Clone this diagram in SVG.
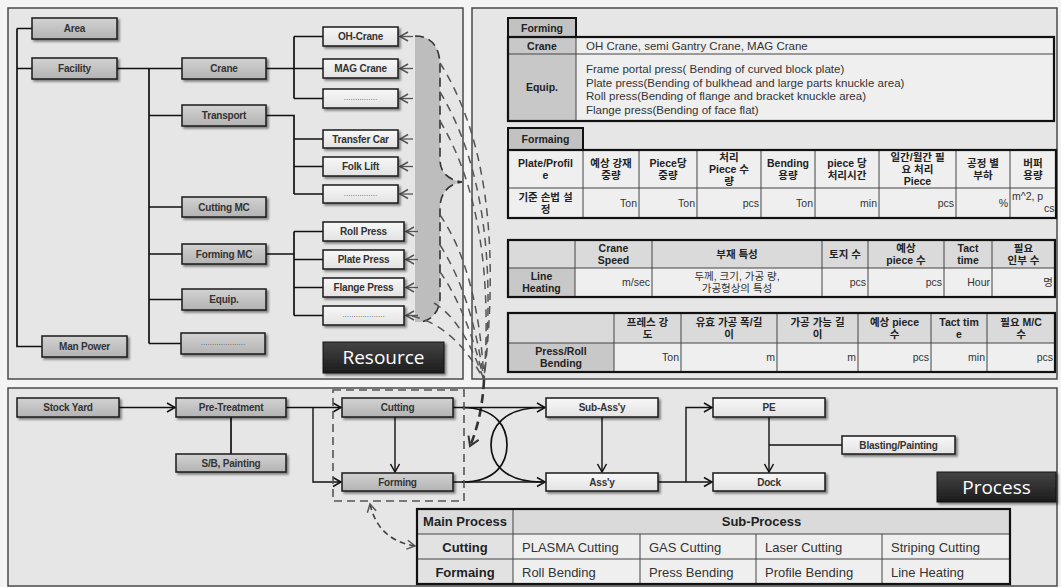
<svg xmlns="http://www.w3.org/2000/svg" width="1061" height="587" viewBox="0 0 1061 587">
<defs>
<filter id="sh" x="-10%" y="-30%" width="130%" height="180%"><feDropShadow dx="2" dy="2" stdDeviation="1.2" flood-color="#000" flood-opacity="0.45"/></filter>
<linearGradient id="gg" x1="0" y1="0" x2="0" y2="1"><stop offset="0" stop-color="#d2d2d2"/><stop offset="1" stop-color="#b3b3b3"/></linearGradient>
<linearGradient id="gl" x1="0" y1="0" x2="0" y2="1"><stop offset="0" stop-color="#f8f8f8"/><stop offset="1" stop-color="#e2e2e2"/></linearGradient>
<linearGradient id="gd" x1="0" y1="0" x2="0" y2="1"><stop offset="0" stop-color="#444"/><stop offset="1" stop-color="#1c1c1c"/></linearGradient>
<marker id="ar" markerUnits="userSpaceOnUse" markerWidth="12" markerHeight="12" refX="9" refY="5" orient="auto-start-reverse" viewBox="0 0 12 10"><path d="M1,0.5 L9,5 L1,9.5" fill="none" stroke="#111" stroke-width="1.5"/></marker>
<marker id="ag" markerUnits="userSpaceOnUse" markerWidth="12" markerHeight="12" refX="9" refY="5" orient="auto-start-reverse" viewBox="0 0 12 10"><path d="M1,0.5 L9,5 L1,9.5" fill="none" stroke="#555" stroke-width="1.5"/></marker>
<marker id="ad" markerUnits="userSpaceOnUse" markerWidth="14" markerHeight="14" refX="10" refY="6" orient="auto" viewBox="0 0 14 12"><path d="M1,0.5 L10,6 L1,11.5" fill="none" stroke="#333" stroke-width="2"/></marker>
<style>
.panel{fill:#e6e6e6;stroke:#4a4a4a;stroke-width:1.5}
.ng{fill:url(#gg);stroke:#1a1a1a;stroke-width:1.5;filter:url(#sh)}
.nw{fill:url(#gl);stroke:#1a1a1a;stroke-width:1.5;filter:url(#sh)}
.nt{font-family:"Liberation Sans",Arial,sans-serif;font-weight:bold;font-size:10px;fill:#333;text-anchor:middle;letter-spacing:-0.2px}
.dots{font-family:"Liberation Sans",Arial,sans-serif;font-size:8px;fill:#555;text-anchor:middle}
.lab{fill:url(#gd);stroke:#111;stroke-width:1;filter:url(#sh)}
.labt{font-family:"Open Sans","Liberation Sans",sans-serif;font-size:19px;fill:#fff;text-anchor:middle}
.ln{fill:none;stroke:#111;stroke-width:1.7}
.ar{fill:none;stroke:#111;stroke-width:1.4;marker-end:url(#ar)}
.fan{fill:none;stroke:#555;stroke-width:1.5;stroke-dasharray:8 6}
.tout{fill:none;stroke:#111;stroke-width:2.2}
.tin{fill:none;stroke:#444;stroke-width:1}
.tb{font-family:"Liberation Sans","Noto Sans CJK KR",sans-serif;font-weight:bold;font-size:10.5px;fill:#222;text-anchor:middle}
.tr{font-family:"Liberation Sans","Noto Sans CJK KR",sans-serif;font-size:10.5px;fill:#333}
.te{text-anchor:end}
.tc{text-anchor:middle}
.cg{fill:#c8c8c8}
.cl{fill:#efefef}
.cm{fill:#dadada}
.mid{font-size:11.5px}
.big{font-size:13px}
</style>
</defs>
<rect x="0" y="0" width="1061" height="587" fill="#f4f4f4"/>
<rect class="panel" x="8" y="8" width="455" height="371"/>
<rect class="panel" x="472" y="8" width="585" height="371"/>
<rect class="panel" x="8" y="388" width="1049" height="198"/>

<path d="M415,36 C432,36 440,48 440,66 L440,160 C440,172 448,180 462,182 C448,184 440,194 440,208 L440,298 C440,312 430,322 418,322 L415,322 Z" fill="#bdbdbd"/>

<g id="connectors">
<path class="ln" d="M17,28.5 H32 M17,68.5 H32 M17,28.5 V346.5 H42"/>
<path class="ln" d="M117,68.5 H182 M149,68.5 V343.5 M149,115.5 H182 M149,207 H182 M149,254 H182 M149,299.5 H182 M149,343.5 H181"/>
<path class="ln" d="M266,68.5 H323 M294,36.5 V98.5 M294,36.5 H323 M294,98.5 H323"/>
<path class="ln" d="M266,115.5 H294 V194 M294,139 H323 M294,166.5 H323 M294,194 H323"/>
<path class="ln" d="M266,254 H294 M294,231.5 V315.5 M294,231.5 H323 M294,259.5 H323 M294,287.5 H323 M294,315.5 H323"/>
<g stroke="#555" stroke-width="1.3" fill="none" marker-end="url(#ag)">
<path d="M413,36.5 H400"/><path d="M413,68.5 H400"/><path d="M413,98.5 H400"/>
<path d="M413,139 H400"/><path d="M413,166.5 H400"/><path d="M413,194 H400"/>
<path d="M418,231.5 H406"/><path d="M418,259.5 H406"/><path d="M418,287.5 H406"/><path d="M418,315.5 H406"/>
</g>
<path d="M415,36 C432,36 440,48 440,66 L440,160 C440,172 448,180 462,182 C448,184 440,194 440,208 L440,298 C440,312 430,322 418,322" fill="none" stroke="#333" stroke-width="1.6" stroke-dasharray="9 5"/>
<path class="fan" d="M440,63 Q508,170 484,380"/>
<path class="fan" d="M440,92 Q502,195 484,380"/>
<path class="fan" d="M440,121 Q496,215 484,380"/>
<path class="fan" d="M440,215 Q478,270 484,380"/>
<path class="fan" d="M440,245 Q472,295 484,380"/>
<path class="fan" d="M440,272 Q467,310 484,380"/>
<path class="fan" d="M434,303 Q463,320 484,380"/>
<path class="fan" d="M412,316 Q455,326 484,380"/>
<path d="M484,380 Q482,418 470,446" fill="none" stroke="#333" stroke-width="2.6" stroke-dasharray="9 5" marker-end="url(#ad)"/>

<path class="ar" d="M119,407.5 H175"/>
<path class="ar" d="M286,407.5 H341"/>
<path class="ar" d="M313,407.5 V482 H341"/>
<path class="ln" d="M231,417 V454"/>
<path class="ar" d="M395,417 V472"/>
<path class="ar" d="M453,407.5 H545"/>
<path class="ar" d="M453,482 H545"/>
<path class="ln" stroke-width="1.4" d="M462,407.5 C497,407.5 507,428 507,445 C507,462 497,482 462,482"/>
<path class="ln" stroke-width="1.4" d="M542,407.5 C503,407.5 491,428 491,445 C491,462 503,482 542,482"/>
<path class="ar" d="M602,417 V472"/>
<path class="ar" d="M658,482 H712"/>
<path class="ar" d="M686,482 V407.5 H712"/>
<path class="ar" d="M769,417 V472"/>
<path class="ln" stroke-width="1.4" d="M769,445 H842"/>
<rect x="333" y="390" width="131" height="111" fill="none" stroke="#555" stroke-width="1.6" stroke-dasharray="8 5"/>
<path d="M370,504 Q378,540 415,546" fill="none" stroke="#444" stroke-width="1.6" stroke-dasharray="6 4" marker-start="url(#ag)" marker-end="url(#ag)"/>
</g>

<g id="n-area"><rect class="ng" x="32" y="18" width="85" height="21"/><text class="nt" x="74.5" y="32">Area</text></g>
<g id="n-facility"><rect class="ng" x="32" y="58" width="85" height="21"/><text class="nt" x="74.5" y="72">Facility</text></g>
<g id="n-crane"><rect class="ng" x="182" y="58" width="84" height="21"/><text class="nt" x="224" y="72">Crane</text></g>
<g id="n-transport"><rect class="ng" x="182" y="105" width="84" height="21"/><text class="nt" x="224" y="119">Transport</text></g>
<g id="n-cuttingmc"><rect class="ng" x="182" y="197" width="84" height="20"/><text class="nt" x="224" y="210.5">Cutting MC</text></g>
<g id="n-formingmc"><rect class="ng" x="182" y="244" width="84" height="20"/><text class="nt" x="224" y="257.5">Forming MC</text></g>
<g id="n-equip"><rect class="ng" x="182" y="289" width="84" height="21"/><text class="nt" x="224" y="303">Equip.</text></g>
<g id="n-etc1"><rect class="ng" x="181" y="333" width="84" height="21"/><text class="dots" x="223" y="345">....................</text></g>
<g id="n-manpower"><rect class="ng" x="42" y="336" width="85" height="21"/><text class="nt" x="84.5" y="350">Man Power</text></g>
<g id="n-ohcrane"><rect class="nw" x="323" y="27" width="75" height="19"/><text class="nt" x="360.5" y="40">OH-Crane</text></g>
<g id="n-magcrane"><rect class="nw" x="323" y="59" width="75" height="19"/><text class="nt" x="360.5" y="72">MAG Crane</text></g>
<g id="n-etc2"><rect class="nw" x="323" y="89" width="75" height="19"/><text class="dots" x="360.5" y="100">...............</text></g>
<g id="n-transfercar"><rect class="nw" x="323" y="130" width="75" height="18"/><text class="nt" x="360.5" y="142.5">Transfer Car</text></g>
<g id="n-folklift"><rect class="nw" x="323" y="157" width="75" height="19"/><text class="nt" x="360.5" y="170">Folk Lift</text></g>
<g id="n-etc3"><rect class="nw" x="323" y="185" width="75" height="18"/><text class="dots" x="360.5" y="196">...............</text></g>
<g id="n-rollpress"><rect class="nw" x="323" y="222" width="81" height="19"/><text class="nt" x="363.5" y="235">Roll Press</text></g>
<g id="n-platepress"><rect class="nw" x="323" y="250" width="81" height="19"/><text class="nt" x="363.5" y="263">Plate Press</text></g>
<g id="n-flangepress"><rect class="nw" x="323" y="278" width="81" height="19"/><text class="nt" x="363.5" y="291">Flange Press</text></g>
<g id="n-etc4"><rect class="nw" x="323" y="306" width="81" height="19"/><text class="dots" x="363.5" y="317">...................</text></g>
<g id="n-resource"><rect class="lab" x="323" y="342" width="121" height="31"/><text class="labt" x="383.5" y="364">Resource</text></g>

<g id="t-forming">
<rect x="508" y="18" width="68" height="19" fill="#c2c2c2" stroke="#111" stroke-width="2"/>
<text class="tb" x="542" y="31.5">Forming</text>
<rect class="cg" x="508" y="37" width="68" height="84"/>
<rect class="cl" x="576" y="37" width="478" height="84"/>
<path class="tin" d="M508,54 H1054 M576,37 V121"/>
<rect class="tout" x="508" y="37" width="546" height="84"/>
<text class="tb" x="542" y="49.5">Crane</text>
<text class="tb" x="542" y="91">Equip.</text>
<text class="tr mid" x="586" y="50">OH Crane, semi Gantry Crane, MAG Crane</text>
<text class="tr mid" x="586" y="73"><tspan x="586">Frame portal press( Bending of curved block plate)</tspan><tspan x="586" dy="13.5">Plate press(Bending of bulkhead and large parts knuckle area)</tspan><tspan x="586" dy="13.5">Roll press(Bending of flange and bracket knuckle area)</tspan><tspan x="586" dy="13.5">Flange press(Bending of face flat)</tspan></text>
</g>

<g id="t-formaing">
<rect x="508" y="128" width="75" height="22" fill="#c2c2c2" stroke="#111" stroke-width="2"/>
<text class="tb" x="545.5" y="143">Formaing</text>
<rect class="cl" x="508" y="150" width="548" height="68"/>
<path class="tin" d="M508,188 H1056 M583,150 V218 M639,150 V218 M697,150 V218 M761,150 V218 M815,150 V218 M879,150 V218 M956,150 V218 M1010,150 V218"/>
<rect class="tout" x="508" y="150" width="548" height="68"/>
<text class="tb" y="167"><tspan x="545.5">Plate/Profil</tspan><tspan x="545.5" dy="12">e</tspan></text>
<text class="tb" y="167"><tspan x="611">예상 강재</tspan><tspan x="611" dy="12">중량</tspan></text>
<text class="tb" y="167"><tspan x="668">Piece당</tspan><tspan x="668" dy="12">중량</tspan></text>
<text class="tb" y="161"><tspan x="729">처리</tspan><tspan x="729" dy="12">Piece 수</tspan><tspan x="729" dy="12">량</tspan></text>
<text class="tb" y="167"><tspan x="788">Bending</tspan><tspan x="788" dy="12">용량</tspan></text>
<text class="tb" y="167"><tspan x="847">piece 당</tspan><tspan x="847" dy="12">처리시간</tspan></text>
<text class="tb" y="161"><tspan x="917.5">일간/월간 필</tspan><tspan x="917.5" dy="12">요 처리</tspan><tspan x="917.5" dy="12">Piece</tspan></text>
<text class="tb" y="167"><tspan x="983">공정 별</tspan><tspan x="983" dy="12">부하</tspan></text>
<text class="tb" y="167"><tspan x="1033">버퍼</tspan><tspan x="1033" dy="12">용량</tspan></text>
<text class="tb" y="201"><tspan x="545.5">기준 손법 설</tspan><tspan x="545.5" dy="12">정</tspan></text>
<text class="tr te" x="637" y="207">Ton</text>
<text class="tr te" x="695" y="207">Ton</text>
<text class="tr te" x="759" y="207">pcs</text>
<text class="tr te" x="813" y="207">Ton</text>
<text class="tr te" x="877" y="207">min</text>
<text class="tr te" x="954" y="207">pcs</text>
<text class="tr te" x="1008" y="207">%</text>
<text class="tr" y="200"><tspan x="1012">m^2, p</tspan><tspan x="1044" dy="12">cs</tspan></text>
</g>

<g id="t-lineheating">
<rect class="cm" x="508" y="240" width="547" height="28"/>
<rect class="cl" x="508" y="268" width="547" height="29"/>
<rect class="cg" x="508" y="268" width="67" height="29"/>
<path class="tin" d="M508,268 H1055 M575,240 V297 M652,240 V297 M822,240 V297 M868,240 V297 M944,240 V297 M992,240 V297"/>
<rect class="tout" x="508" y="240" width="547" height="57"/>
<text class="tb" y="252"><tspan x="613.5">Crane</tspan><tspan x="613.5" dy="12">Speed</tspan></text>
<text class="tb" x="737" y="258">부재 특성</text>
<text class="tb" x="845" y="258">토지 수</text>
<text class="tb" y="252"><tspan x="906">예상</tspan><tspan x="906" dy="12">piece 수</tspan></text>
<text class="tb" y="252"><tspan x="968">Tact</tspan><tspan x="968" dy="12">time</tspan></text>
<text class="tb" y="252"><tspan x="1023.5">필요</tspan><tspan x="1023.5" dy="12">인부 수</tspan></text>
<text class="tb" y="280"><tspan x="541.5">Line</tspan><tspan x="541.5" dy="12">Heating</tspan></text>
<text class="tr te" x="650" y="286">m/sec</text>
<text class="tr tc" y="280"><tspan x="737">두께, 크기, 가공 량,</tspan><tspan x="737" dy="12">가공형상의 특성</tspan></text>
<text class="tr te" x="866" y="286">pcs</text>
<text class="tr te" x="942" y="286">pcs</text>
<text class="tr te" x="990" y="286">Hour</text>
<text class="tr te" x="1053" y="286">명</text>
</g>

<g id="t-pressbending">
<rect class="cm" x="508" y="313" width="547" height="30"/>
<rect class="cl" x="508" y="343" width="547" height="29"/>
<rect class="cg" x="508" y="343" width="106" height="29"/>
<path class="tin" d="M508,343 H1055 M614,313 V372 M681,313 V372 M777,313 V372 M858,313 V372 M931,313 V372 M987,313 V372"/>
<rect class="tout" x="508" y="313" width="547" height="59"/>
<text class="tb" y="326"><tspan x="647.5">프레스 강</tspan><tspan x="647.5" dy="12">도</tspan></text>
<text class="tb" y="326"><tspan x="729">유효 가공 폭/길</tspan><tspan x="729" dy="12">이</tspan></text>
<text class="tb" y="326"><tspan x="817.5">가공 가능 길</tspan><tspan x="817.5" dy="12">이</tspan></text>
<text class="tb" y="326"><tspan x="894.5">예상 piece</tspan><tspan x="894.5" dy="12">수</tspan></text>
<text class="tb" y="326"><tspan x="959">Tact tim</tspan><tspan x="959" dy="12">e</tspan></text>
<text class="tb" y="326"><tspan x="1021">필요 M/C</tspan><tspan x="1021" dy="12">수</tspan></text>
<text class="tb" y="355"><tspan x="561">Press/Roll</tspan><tspan x="561" dy="12">Bending</tspan></text>
<text class="tr te" x="679" y="361">Ton</text>
<text class="tr te" x="775" y="361">m</text>
<text class="tr te" x="856" y="361">m</text>
<text class="tr te" x="929" y="361">pcs</text>
<text class="tr te" x="985" y="361">min</text>
<text class="tr te" x="1053" y="361">pcs</text>
</g>

<g id="p-stockyard"><rect class="ng" x="17" y="398" width="102" height="19"/><text class="nt" x="68" y="411">Stock Yard</text></g>
<g id="p-pretreatment"><rect class="ng" x="176" y="398" width="110" height="19"/><text class="nt" x="231" y="411">Pre-Treatment</text></g>
<g id="p-sbpainting"><rect class="ng" x="176" y="454" width="110" height="18"/><text class="nt" x="231" y="466.5">S/B, Painting</text></g>
<g id="p-cutting"><rect class="ng" x="342" y="398" width="111" height="19"/><text class="nt" x="397.5" y="411">Cutting</text></g>
<g id="p-forming"><rect class="ng" x="342" y="473" width="111" height="18"/><text class="nt" x="397.5" y="485.5">Forming</text></g>
<g id="p-subassy"><rect class="nw" x="546" y="398" width="112" height="19"/><text class="nt" x="602" y="411">Sub-Ass'y</text></g>
<g id="p-assy"><rect class="nw" x="546" y="473" width="112" height="18"/><text class="nt" x="602" y="485.5">Ass'y</text></g>
<g id="p-pe"><rect class="nw" x="713" y="398" width="112" height="19"/><text class="nt" x="769" y="411">PE</text></g>
<g id="p-dock"><rect class="nw" x="713" y="473" width="112" height="18"/><text class="nt" x="769" y="485.5">Dock</text></g>
<g id="p-blasting"><rect class="nw" x="842" y="436" width="113" height="18"/><text class="nt" x="898.5" y="448.5">Blasting/Painting</text></g>
<g id="p-process"><rect class="lab" x="937" y="472" width="119" height="30"/><text class="labt" x="996.5" y="494">Process</text></g>

<g id="t-subprocess">
<rect class="cm" x="417" y="509" width="593" height="25"/>
<rect class="cl" x="417" y="534" width="593" height="50"/>
<rect fill="#e2e2e2" x="417" y="534" width="96" height="50"/>
<path class="tin" d="M417,534 H1010 M417,559 H1010 M513,509 V584 M640,534 V584 M756,534 V584 M882,534 V584"/>
<rect class="tout" x="417" y="509" width="593" height="75"/>
<text class="tb big" x="465" y="526">Main Process</text>
<text class="tb big" x="761.5" y="526">Sub-Process</text>
<text class="tb big" x="465" y="551.5">Cutting</text>
<text class="tb big" x="465" y="576.5">Formaing</text>
<text class="tr big" x="522" y="551.5">PLASMA Cutting</text>
<text class="tr big" x="649" y="551.5">GAS Cutting</text>
<text class="tr big" x="765" y="551.5">Laser Cutting</text>
<text class="tr big" x="891" y="551.5">Striping Cutting</text>
<text class="tr big" x="522" y="576.5">Roll Bending</text>
<text class="tr big" x="649" y="576.5">Press Bending</text>
<text class="tr big" x="765" y="576.5">Profile Bending</text>
<text class="tr big" x="891" y="576.5">Line Heating</text>
</g>
</svg>
